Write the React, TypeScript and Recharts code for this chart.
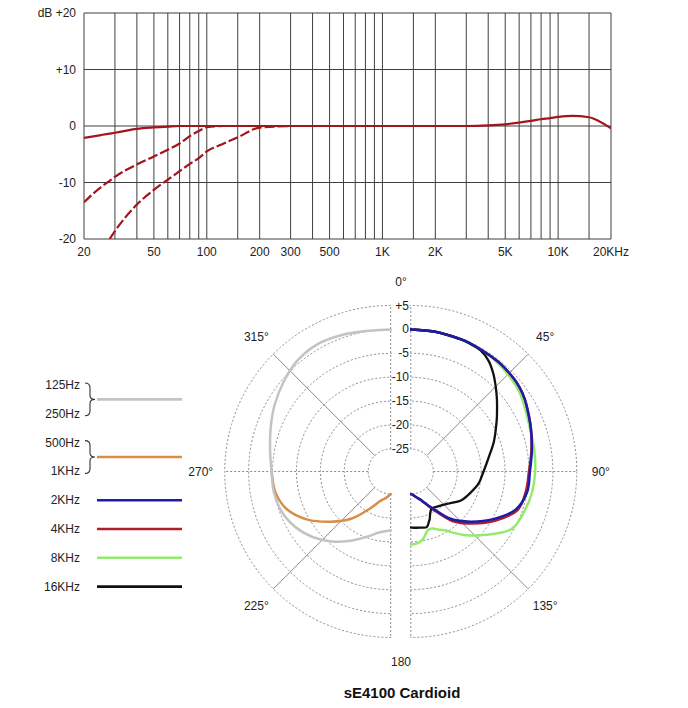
import React from "react";
import {
  LineChart,
  Line,
  XAxis,
  YAxis,
  CartesianGrid,
  RadarChart,
  Radar,
  PolarGrid,
  PolarAngleAxis,
  PolarRadiusAxis,
} from "recharts";

// ---- frequency response ----
const freqs = [20, 25, 28, 30, 40, 50, 60, 70, 80, 90, 100, 125, 150, 200, 300, 500, 1000, 2000, 3000, 4000, 5000, 6000, 7000, 8000, 9000, 10000, 12000, 15000, 17000, 20000];
const flatResp = [-2.1, -1.6, -1.35, -1.2, -0.5, -0.25, -0.1, 0, 0, 0, 0, 0, 0, 0, 0, 0, 0, 0, 0, 0.1, 0.3, 0.6, 0.9, 1.2, 1.4, 1.6, 1.8, 1.55, 0.9, -0.4];
const cut100Resp = [-13.5, -10.8, -9.7, -9.0, -6.8, -5.4, -4.2, -3.1, -1.8, -0.9, -0.2, 0, 0, null, null, null, null, null, null, null, null, null, null, null, null, null, null, null, null, null];
const cut200Resp = [null, null, -20, -18.6, -13.9, -11.3, -9.5, -8.0, -6.7, -5.7, -4.5, -3.1, -2.0, -0.3, 0, null, null, null, null, null, null, null, null, null, null, null, null, null, null, null];

const gridFreqs = [20, 30, 40, 50, 60, 70, 80, 90, 100, 150, 200, 300, 400, 500, 600, 700, 800, 900, 1000, 1500, 2000, 3000, 4000, 5000, 6000, 7000, 8000, 9000, 10000, 15000, 20000];
const labelFreqs = [20, 50, 100, 200, 300, 500, 1000, 2000, 5000, 10000, 20000];
const labelFreqText = ["20", "50", "100", "200", "300", "500", "1K", "2K", "5K", "10K", "20KHz"];
const dbTicks = [-20, -10, 0, 10, 20];
const dbTickText = ["-20", "-10", "0", "+10", "dB +20"];

// ---- polar pattern (compass degrees, dB) ----
const rightAngles = [0, 10, 20, 25, 30, 35, 40, 45, 50, 55, 60, 70, 80, 90, 100, 110, 120, 130, 140, 150, 155, 158, 160, 164, 170, 175, 180];
const resp2k = [0, -0.05, -0.15, -0.2, -0.3, -0.35, -0.4, -0.6, -0.8, -1.2, -1.8, -3.0, -4.0, -4.8, -5.0, -6.4, -9.8, -13.4, -16.8, -21.0, -22.3, -22.9, -23.3, -23.8, -24.4, -24.8, -25];
const resp4k = [0, -0.05, -0.15, -0.2, -0.3, -0.35, -0.4, -0.6, -0.8, -1.2, -1.8, -3.0, -4.1, -5.0, -5.3, -6.0, -9.2, -12.8, -16.2, -20.6, -22.2, -22.9, -23.3, -23.8, -24.4, -24.8, -25];
const resp8k = [0, -0.05, -0.2, -0.3, -0.4, -0.5, -0.7, -1.0, -1.3, -1.7, -2.3, -3.2, -3.5, -3.7, -4.0, -4.6, -5.5, -9.1, -12.4, -15.5, -16.3, -16.8, -17.0, -16.9, -15.3, -14.6, -14.4];
const resp16k = [0, -0.05, -0.15, -0.25, -0.5, -1.4, -2.9, -4.6, -6.2, -7.7, -9.0, -11.2, -13.2, -14.5, -15.3, -16.5, -17.6, -19.3, -20.3, -20.8, -20.1, -19.1, -18.6, -17.6, -17.8, -17.9, -18.0];

const leftAngles = [180, 190, 200, 210, 220, 230, 240, 250, 260, 270, 280, 290, 300, 310, 320, 330, 340, 350, 360];
const resp125 = [-17.4, -16.8, -15.2, -13.0, -10.6, -8.4, -6.6, -5.4, -4.9, -4.8, -4.1, -3.0, -1.7, -0.5, 0.6, 1.0, 0.6, 0.1, 0];
const resp500 = [-25, -24.1, -23.1, -20.6, -16.8, -13.4, -9.6, -6.6, -5.2, -4.8, null, null, null, null, null, null, null, null, null];

const radiusTicks = [-25, -20, -15, -10, -5, 0, 5];
const rightSpokes = [0, 90, 180];
const rightDiagonals = [45, 135];
const rightLabels = [45, 90, 135];
const leftSpokes = [180, 270, 360];
const leftDiagonals = [225, 315];
const leftLabels = [225, 270, 315];
const gapLabels = [0, 180];

const GRAY = "#c3c3c3";
const ORANGE = "#d98e47";
const BLUE = "#1d1dab";
const RED = "#b21f2c";
const GREEN = "#94ea6e";
const BLACK = "#111111";
const CURVE_RED = "#a3151c";

const legendGroups = [
  { names: ["125Hz", "250Hz"], color: GRAY },
  { names: ["500Hz", "1KHz"], color: ORANGE },
  { names: ["2KHz"], color: BLUE },
  { names: ["4KHz"], color: RED },
  { names: ["8KHz"], color: GREEN },
  { names: ["16KHz"], color: BLACK },
];

const freqRows = freqs.map((f, i) => ({ f, flat: flatResp[i], cut100: cut100Resp[i], cut200: cut200Resp[i] }));
const rightRows = rightAngles.map((angle, i) => ({ angle, k2: resp2k[i], k4: resp4k[i], k8: resp8k[i], k16: resp16k[i] }));
const leftRows = leftAngles.map((angle, i) => ({ angle, lo: resp125[i], mid: resp500[i] }));

const toPolar = (deg: number) => 90 - deg;
const freqLabel = (v: number) => {
  const i = labelFreqs.indexOf(v);
  return i >= 0 ? labelFreqText[i] : "";
};
const dbLabel = (v: number) => dbTickText[dbTicks.indexOf(v)] ?? String(v);

// open, smoothed trace through the radar points (a half plot must not close)
function OpenTrace(props: any) {
  const { points, stroke, strokeWidth } = props;
  const pts = (points || []).filter(
    (p: any) => p.value !== null && p.value !== undefined && Number.isFinite(p.x) && Number.isFinite(p.y)
  );
  if (pts.length < 2) return null;
  let d = `M${pts[0].x},${pts[0].y}`;
  for (let i = 0; i < pts.length - 1; i++) {
    const p0 = pts[i - 1] || pts[i];
    const p1 = pts[i];
    const p2 = pts[i + 1];
    const p3 = pts[i + 2] || p2;
    const c1x = p1.x + (p2.x - p0.x) / 6;
    const c1y = p1.y + (p2.y - p0.y) / 6;
    const c2x = p2.x - (p3.x - p1.x) / 6;
    const c2y = p2.y - (p3.y - p1.y) / 6;
    d += `C${c1x},${c1y} ${c2x},${c2y} ${p2.x},${p2.y}`;
  }
  return <path d={d} fill="none" stroke={stroke} strokeWidth={strokeWidth} strokeLinejoin="round" strokeLinecap="round" />;
}

function AngleTick(props: any) {
  const { x, y, payload } = props;
  const deg = Number(payload.value);
  const rad = (deg * Math.PI) / 180;
  const push = 16;
  return (
    <text
      x={x + push * Math.sin(rad)}
      y={y - push * Math.cos(rad)}
      textAnchor="middle"
      dominantBaseline="central"
      fontSize={12}
      fill="#222"
    >
      {deg === 180 ? "180" : `${deg}°`}
    </text>
  );
}

function RadiusTick(props: any) {
  const { x, y, payload } = props;
  const v = Number(payload.value);
  return (
    <text x={x + 8} y={y} textAnchor="end" dominantBaseline="central" fontSize={12} fill="#222">
      {v > 0 ? `+${v}` : String(v)}
    </text>
  );
}

const noMargin = { top: 0, right: 0, bottom: 0, left: 0 };
const CY = 471.5;
const R_IN = 22.5;
const R_OUT = 166;

function Annotations() {
  const rowY = (k: number) => 385 + 28.8 * k;
  let k = 0;
  return (
    <svg width={688} height={708} style={{ position: "absolute", left: 0, top: 0 }}>
      {legendGroups.map((g) => {
        const first = k;
        k += g.names.length;
        const ys = g.names.map((_, j) => rowY(first + j));
        const mid = (ys[0] + ys[ys.length - 1]) / 2;
        return (
          <g key={g.names[0]}>
            {g.names.map((n, j) => (
              <text key={n} x={80} y={ys[j]} textAnchor="end" dominantBaseline="central" fontSize={12} fill="#222">
                {n}
              </text>
            ))}
            {g.names.length > 1 && (
              <path
                d={`M85,${ys[0] - 2} Q90,${ys[0] - 2} 90,${ys[0] + 3} L90,${mid - 4} Q90,${mid} 95,${mid} Q90,${mid} 90,${mid + 4} L90,${ys[1] - 3} Q90,${ys[1] + 2} 85,${ys[1] + 2}`}
                fill="none"
                stroke="#333"
                strokeWidth={1.1}
              />
            )}
            <line x1={97} x2={182} y1={mid} y2={mid} stroke={g.color} strokeWidth={2.6} />
          </g>
        );
      })}
      <text x={402} y={692} textAnchor="middle" dominantBaseline="central" fontSize={15} fontWeight="bold" fill="#111">
        sE4100 Cardioid
      </text>
    </svg>
  );
}

export default function App() {
  return (
    <div
      style={{
        position: "relative",
        width: 688,
        height: 708,
        margin: -8,
        background: "#fff",
        fontFamily: '"Liberation Sans", Arial, sans-serif',
        overflow: "hidden",
      }}
    >
      <div style={{ position: "absolute", left: 0, top: 0 }}>
        <LineChart width={688} height={265} data={freqRows} margin={{ top: 13, right: 77, bottom: 0, left: 0 }}>
          <CartesianGrid stroke="#3f3f3f" strokeWidth={1} />
          <XAxis
            dataKey="f"
            type="number"
            scale="log"
            domain={[20, 20000]}
            ticks={gridFreqs}
            interval={0}
            tickFormatter={freqLabel}
            tick={{ fontSize: 12, fill: "#222" }}
            tickLine={false}
            axisLine={false}
            height={26}
            allowDataOverflow
          />
          <YAxis
            type="number"
            domain={[-20, 20]}
            ticks={dbTicks}
            interval={0}
            tickFormatter={dbLabel}
            tick={{ fontSize: 12, fill: "#222" }}
            tickLine={false}
            axisLine={false}
            width={84}
            allowDataOverflow
          />
          <Line dataKey="cut200" type="monotone" stroke={CURVE_RED} strokeWidth={2.2} strokeDasharray="10 3" dot={false} activeDot={false} isAnimationActive={false} />
          <Line dataKey="cut100" type="monotone" stroke={CURVE_RED} strokeWidth={2.2} strokeDasharray="10 3" dot={false} activeDot={false} isAnimationActive={false} />
          <Line dataKey="flat" type="monotone" stroke={CURVE_RED} strokeWidth={2.2} dot={false} activeDot={false} isAnimationActive={false} />
        </LineChart>
      </div>

      {/* left half: 180..360 */}
      <div style={{ position: "absolute", left: 160, top: 290, width: 232, height: 360, overflow: "hidden" }}>
        <RadarChart
          width={232}
          height={360}
          data={leftRows}
          cx={230.7}
          cy={CY - 290}
          innerRadius={R_IN}
          outerRadius={R_OUT}
          startAngle={270}
          endAngle={90}
          margin={noMargin}
        >
          <PolarGrid gridType="circle" radialLines={false} stroke="#8c8c8c" strokeDasharray="2 2" />
          <PolarGrid polarAngles={leftSpokes.map(toPolar)} polarRadius={[]} stroke="#8c8c8c" strokeDasharray="2 2" />
          <PolarGrid polarAngles={leftDiagonals.map(toPolar)} polarRadius={[]} stroke="#8a8a8a" />
          <PolarAngleAxis type="number" dataKey="angle" domain={[180, 360]} ticks={leftLabels} tick={<AngleTick />} axisLine={false} tickLine={false} allowDataOverflow />
          <PolarRadiusAxis type="number" domain={[-25, 5]} ticks={radiusTicks} tickCount={7} tick={false} axisLine={false} allowDataOverflow />
          <Radar dataKey="mid" stroke={ORANGE} strokeWidth={2.5} fill="none" shape={OpenTrace} dot={false} isAnimationActive={false} />
          <Radar dataKey="lo" stroke={GRAY} strokeWidth={2.5} fill="none" shape={OpenTrace} dot={false} isAnimationActive={false} />
        </RadarChart>
      </div>

      {/* right half: 0..180 */}
      <div style={{ position: "absolute", left: 410, top: 290, width: 230, height: 360, overflow: "hidden" }}>
        <RadarChart
          width={230}
          height={360}
          data={rightRows}
          cx={0.8}
          cy={CY - 290}
          innerRadius={R_IN}
          outerRadius={R_OUT}
          startAngle={90}
          endAngle={-90}
          margin={noMargin}
        >
          <PolarGrid gridType="circle" radialLines={false} stroke="#8c8c8c" strokeDasharray="2 2" />
          <PolarGrid polarAngles={rightSpokes.map(toPolar)} polarRadius={[]} stroke="#8c8c8c" strokeDasharray="2 2" />
          <PolarGrid polarAngles={rightDiagonals.map(toPolar)} polarRadius={[]} stroke="#8a8a8a" />
          <PolarAngleAxis type="number" dataKey="angle" domain={[0, 180]} ticks={rightLabels} tick={<AngleTick />} axisLine={false} tickLine={false} allowDataOverflow />
          <PolarRadiusAxis type="number" domain={[-25, 5]} ticks={radiusTicks} tickCount={7} tick={false} axisLine={false} allowDataOverflow />
          <Radar dataKey="k8" stroke={GREEN} strokeWidth={2.5} fill="none" shape={OpenTrace} dot={false} isAnimationActive={false} />
          <Radar dataKey="k4" stroke={RED} strokeWidth={2.5} fill="none" shape={OpenTrace} dot={false} isAnimationActive={false} />
          <Radar dataKey="k16" stroke={BLACK} strokeWidth={2.3} fill="none" shape={OpenTrace} dot={false} isAnimationActive={false} />
          <Radar dataKey="k2" stroke={BLUE} strokeWidth={2.5} fill="none" shape={OpenTrace} dot={false} isAnimationActive={false} />
        </RadarChart>
      </div>

      {/* labels in the gap between the halves */}
      <div style={{ position: "absolute", left: 0, top: 0 }}>
        <RadarChart
          width={688}
          height={708}
          data={rightRows}
          cx={401}
          cy={CY}
          innerRadius={R_IN}
          outerRadius={R_OUT}
          startAngle={90}
          endAngle={-270}
          margin={noMargin}
        >
          <PolarAngleAxis type="number" dataKey="angle" domain={[0, 360]} ticks={gapLabels} tick={<AngleTick />} axisLine={false} tickLine={false} allowDataOverflow />
          <PolarRadiusAxis type="number" angle={90} domain={[-25, 5]} ticks={radiusTicks} tickCount={7} tick={<RadiusTick />} axisLine={false} allowDataOverflow />
        </RadarChart>
      </div>

      <Annotations />
    </div>
  );
}
